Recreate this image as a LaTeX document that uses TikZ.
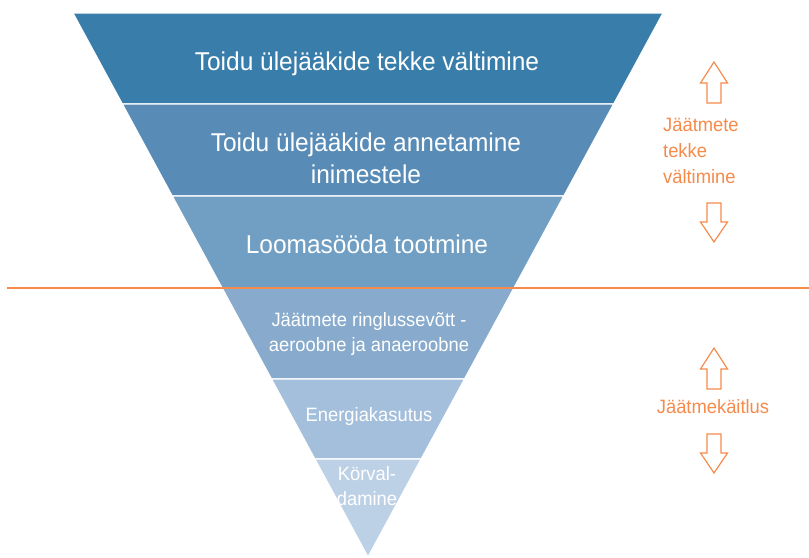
\documentclass[tikz,border=0pt]{standalone}
\usepackage{fontspec}
\setmainfont{Liberation Sans}[FakeStretch=0.95]
\usepackage{tikz}

\definecolor{band1}{HTML}{397EAB}
\definecolor{band2}{HTML}{588CB7}
\definecolor{band3}{HTML}{719FC3}
\definecolor{band4}{HTML}{88ABCD}
\definecolor{band5}{HTML}{A3BFDB}
\definecolor{band6}{HTML}{BDD1E6}
\definecolor{orangeline}{HTML}{F58A4B}

\begin{document}
\begin{tikzpicture}[x=0.03cm, y=-0.03cm,
    bandtext/.style={white, align=center, anchor=base, font=\fontsize{22}{27.3}\selectfont},
    smalltext/.style={white, align=center, anchor=base, font=\fontsize{16.5}{20.5}\selectfont},
    sidetext/.style={text=orangeline, align=left, anchor=base west, font=\fontsize{16.5}{21.8}\selectfont}]
    \useasboundingbox (0,0) rectangle (809,558);
    % Bands
    \foreach \ya/\yb/\col in {13/104/band1, 104/196/band2, 196/288/band3, 288/379/band4, 379/459/band5, 459/557/band6} {
            \filldraw[fill=\col, draw=white, line width=1pt] ({368-0.54228*(557-\ya)},\ya) -- ({368+0.54228*(557-\ya)},\ya) -- ({368+0.54228*(557-\yb)},\yb) -- ({368-0.54228*(557-\yb)},\yb) -- cycle;
        }
    % Divider
    \draw[orangeline, line width=1.2pt] (7,288) -- (809,288);
    % Levels (multi-line nodes sit on their last baseline)
    \node[bandtext] (prevent) at (367,70) {Toidu ülejääkide tekke vältimine};
    \node[bandtext] (donate) at (366,183) {Toidu ülejääkide annetamine\\inimestele};
    \node[bandtext] (feed) at (367,253) {Loomasööda tootmine};
    \node[smalltext] (recycle) at (369,351) {Jäätmete ringlussevõtt -\\aeroobne ja anaeroobne};
    \node[smalltext] (energy) at (369,421) {Energiakasutus};
    \node[smalltext] (disposal) at (367,505) {Körval-\\damine};
    % Side labels
    \node[sidetext] (avoid) at (659,183) {Jäätmete\\tekke\\vältimine};
    \node[sidetext, anchor=base] (treat) at (713,413) {Jäätmekäitlus};
    \foreach \yt/\yh/\yb in {62/83/103, 242/222/203, 348/369/389, 473/453/434} {
            \draw[orangeline, line width=1pt] (714,\yt) -- (727.5,\yh) -- (721,\yh) -- (721,\yb) -- (707,\yb) -- (707,\yh) -- (700.5,\yh) -- cycle;
        }
\end{tikzpicture}
\end{document}
